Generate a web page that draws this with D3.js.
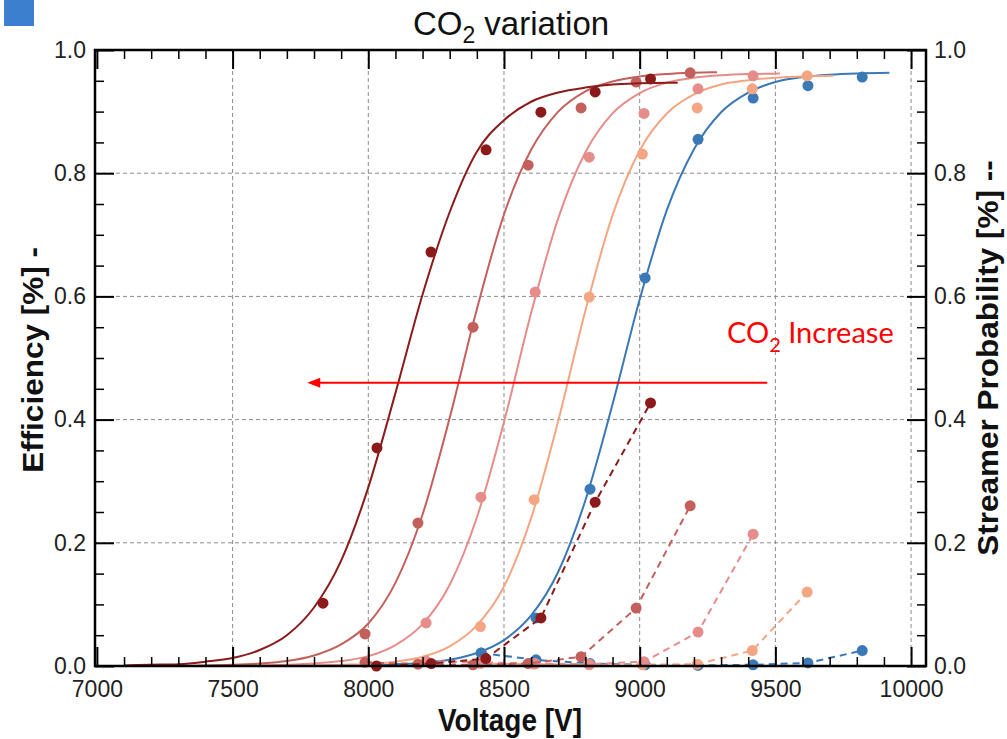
<!DOCTYPE html>
<html><head><meta charset="utf-8">
<script src="https://cdn.jsdelivr.net/npm/d3@7/dist/d3.min.js"></script>
<style>body{margin:0;background:#fff;} svg{display:block;}</style>
</head><body>
<svg id="chart" width="1007" height="739"></svg>
<script>
// ---------- DATA ----------
const seriesNames = ["CO2 level 5", "CO2 level 4", "CO2 level 3", "CO2 level 2", "CO2 level 1"];

// efficiency measurements
const effV_s1 = [7833, 8032, 8231, 8434, 8636, 8836, 9040];
const effE_s1 = [0.102, 0.354, 0.672, 0.838, 0.899, 0.932, 0.953];
const effV_s2 = [7988, 8183, 8386, 8589, 8784, 8987, 9186];
const effE_s2 = [0.052, 0.232, 0.550, 0.813, 0.906, 0.948, 0.963];
const effV_s3 = [8213, 8415, 8615, 8814, 9016, 9215, 9418];
const effE_s3 = [0.070, 0.274, 0.607, 0.826, 0.897, 0.937, 0.958];
const effV_s4 = [8413, 8611, 8814, 9010, 9212, 9415, 9617];
const effE_s4 = [0.064, 0.270, 0.599, 0.831, 0.906, 0.937, 0.958];
const effV_s5 = [8416, 8618, 8817, 9020, 9215, 9418, 9620, 9820];
const effE_s5 = [0.021, 0.078, 0.287, 0.630, 0.855, 0.922, 0.942, 0.956];

// streamer probability measurements
const strV_s1 = [8030, 8232, 8433, 8636, 8836, 9040];
const strP_s1 = [0.000, 0.004, 0.012, 0.078, 0.266, 0.427];
const strV_s2 = [7988, 8183, 8386, 8589, 8784, 8987, 9186];
const strP_s2 = [0.006, 0.003, 0.002, 0.004, 0.015, 0.094, 0.260];
const strV_s3 = [8213, 8415, 8615, 8814, 9016, 9215, 9418];
const strP_s3 = [0.008, 0.006, 0.004, 0.003, 0.007, 0.055, 0.214];
const strV_s4 = [8413, 8611, 8814, 9010, 9212, 9415, 9617];
const strP_s4 = [0.004, 0.003, 0.002, 0.002, 0.003, 0.025, 0.120];
const strV_s5 = [8416, 8618, 8817, 9020, 9215, 9418, 9620, 9820];
const strP_s5 = [0.021, 0.010, 0.004, 0.002, 0.001, 0.002, 0.005, 0.025];

// fitted efficiency curves
const fitV_s1 = [7100,7200,7300,7400,7500,7600,7700,7800,7900,8000,8100,8200,8300,8400,8500,8600,8700,8800,8900,9000,9100,9140];
const fitE_s1 = [0.001,0.002,0.003,0.007,0.013,0.026,0.050,0.095,0.171,0.290,0.443,0.603,0.737,0.835,0.886,0.916,0.931,0.939,0.944,0.946,0.947,0.947];
const fitV_s2 = [7100,7200,7300,7400,7500,7600,7700,7800,7900,8000,8100,8200,8300,8400,8500,8600,8700,8800,8900,9000,9100,9200,9285];
const fitE_s2 = [0.000,0.000,0.000,0.001,0.002,0.004,0.008,0.017,0.035,0.069,0.135,0.246,0.403,0.579,0.733,0.838,0.900,0.933,0.949,0.957,0.961,0.963,0.964];
const fitV_s3 = [7300,7400,7500,7600,7700,7800,7900,8000,8100,8200,8300,8400,8500,8600,8700,8800,8900,9000,9100,9200,9300,9400,9517];
const fitE_s3 = [0.000,0.000,0.000,0.001,0.002,0.004,0.008,0.016,0.034,0.068,0.132,0.241,0.396,0.573,0.727,0.834,0.897,0.930,0.947,0.955,0.959,0.961,0.962];
const fitV_s4 = [7500,7600,7700,7800,7900,8000,8100,8200,8300,8400,8500,8600,8700,8800,8900,9000,9100,9200,9300,9400,9500,9600,9713];
const fitE_s4 = [0.000,0.000,0.000,0.001,0.002,0.003,0.007,0.015,0.032,0.066,0.129,0.240,0.398,0.577,0.732,0.837,0.897,0.928,0.944,0.951,0.955,0.957,0.958];
const fitV_s5 = [7800,7900,8000,8100,8200,8300,8400,8500,8600,8700,8800,8900,9000,9100,9200,9300,9400,9500,9600,9700,9800,9920];
const fitE_s5 = [0.000,0.001,0.001,0.003,0.005,0.010,0.021,0.042,0.082,0.153,0.269,0.425,0.595,0.740,0.839,0.899,0.931,0.948,0.956,0.960,0.962,0.963];

// axes
const xMajorTicks = [7000, 7500, 8000, 8500, 9000, 9500, 10000];
const yMajorTicks = [0.0, 0.2, 0.4, 0.6, 0.8, 1.0];
const titleMain = "CO";
const titleSub = "2";
const titleRest = " variation";
const xTitle = "Voltage [V]";
const yTitle = "Efficiency [%] -";
const y2Title = "Streamer Probability [%] --";
const annoMain = "CO";
const annoSub = "2";
const annoRest = " Increase";
const arrowFromV = 9470, arrowToV = 7775, arrowLevel = 0.46;

// ---------- STYLE ----------
const colors = ["#8c1a1a", "#c3605c", "#e68c8a", "#f4a683", "#3a78b6"];

const series = seriesNames.map((name, i) => ({
  name, color: colors[i],
  eff: [effV_s1, effV_s2, effV_s3, effV_s4, effV_s5][i].map((v, j) => ({v, e: [effE_s1, effE_s2, effE_s3, effE_s4, effE_s5][i][j]})),
  str: [strV_s1, strV_s2, strV_s3, strV_s4, strV_s5][i].map((v, j) => ({v, e: [strP_s1, strP_s2, strP_s3, strP_s4, strP_s5][i][j]})),
  fit: [fitV_s1, fitV_s2, fitV_s3, fitV_s4, fitV_s5][i].map((v, j) => ({v, e: [fitE_s1, fitE_s2, fitE_s3, fitE_s4, fitE_s5][i][j]}))
}));

const svg = d3.select("#chart");
const L = 95, R = 926, T = 50, B = 666;
const x = d3.scaleLinear().domain([6993, 10055]).range([L, R]);
const y = d3.scaleLinear().domain([0, 1]).range([B, T]);
const FONT = "'Liberation Sans', Arial, Helvetica, sans-serif";

// corner square
svg.append("rect").attr("x", 4).attr("y", 0).attr("width", 30).attr("height", 26).attr("fill", "#3d7fcf");

// grid
const grid = svg.append("g").attr("stroke", "#8a8a8a").attr("stroke-width", 1).attr("stroke-dasharray", "4,3");
xMajorTicks.filter(v => v > 7000).forEach(v => {
  grid.append("line").attr("x1", x(v)).attr("x2", x(v)).attr("y1", T).attr("y2", B);
});
yMajorTicks.filter(v => v > 0 && v < 1).forEach(v => {
  grid.append("line").attr("x1", L).attr("x2", R).attr("y1", y(v)).attr("y2", y(v));
});

// series
const fitLine = d3.line().x(d => x(d.v)).y(d => y(d.e)).curve(d3.curveMonotoneX);
const strLine = d3.line().x(d => x(d.v)).y(d => y(d.e));
const order = [4, 3, 2, 1, 0];
order.forEach(i => {
  const s = series[i];
  const g = svg.append("g");
  g.append("path").attr("d", fitLine(s.fit)).attr("fill", "none").attr("stroke", s.color).attr("stroke-width", 2);
  g.append("path").attr("d", strLine(s.str)).attr("fill", "none").attr("stroke", s.color).attr("stroke-width", 2).attr("stroke-dasharray", "7,5");
  g.selectAll("circle.e").data(s.eff).join("circle").attr("class", "e")
    .attr("cx", d => x(d.v)).attr("cy", d => y(d.e)).attr("r", 5.5).attr("fill", s.color);
  g.selectAll("circle.s").data(s.str).join("circle").attr("class", "s")
    .attr("cx", d => x(d.v)).attr("cy", d => y(d.e)).attr("r", 5.5).attr("fill", s.color);
});

// annotation arrow
const ay = y(arrowLevel);
svg.append("line").attr("x1", x(arrowFromV)).attr("x2", x(arrowToV) + 10).attr("y1", ay).attr("y2", ay)
  .attr("stroke", "#ff0000").attr("stroke-width", 2);
svg.append("path").attr("d", `M${x(arrowToV)},${ay} L${x(arrowToV) + 13},${ay - 5} L${x(arrowToV) + 13},${ay + 5} Z`).attr("fill", "#ff0000");
const at = svg.append("text").attr("x", 727).attr("y", 343).attr("fill", "#ff0000")
  .attr("font-family", "Lato, 'Open Sans', sans-serif").attr("font-size", 29);
at.append("tspan").text(annoMain);
at.append("tspan").attr("dy", 9).attr("font-size", 20).text(annoSub);
at.append("tspan").attr("dy", -9).text(annoRest);

// axes
function styleAxis(g, fs) {
  g.select(".domain").remove();
  g.selectAll("line").attr("stroke", "#000");
  g.selectAll("text").attr("font-family", FONT).attr("font-size", fs).attr("fill", "#222");
}
const xMinor = d3.range(7100, 10051, 100).filter(v => v % 500 !== 0);
const yMinor = d3.range(0.05, 1.0, 0.05).filter(v => Math.abs(v * 5 - Math.round(v * 5)) > 1e-6);

svg.append("g").attr("transform", `translate(0,${B})`)
  .call(d3.axisBottom(x).tickValues(xMajorTicks).tickSize(-19).tickPadding(15).tickFormat(d3.format("d")))
  .call(g => styleAxis(g, 23)).call(g => g.selectAll("line").attr("stroke-width", 2));
svg.append("g").attr("transform", `translate(0,${B})`)
  .call(d3.axisBottom(x).tickValues(xMinor).tickSize(-9).tickFormat(""))
  .call(g => styleAxis(g, 0)).call(g => g.selectAll("line").attr("stroke-width", 1.5));
svg.append("g").attr("transform", `translate(0,${T})`)
  .call(d3.axisTop(x).tickValues(xMajorTicks).tickSize(-19).tickFormat(""))
  .call(g => styleAxis(g, 0)).call(g => g.selectAll("line").attr("stroke-width", 2));
svg.append("g").attr("transform", `translate(0,${T})`)
  .call(d3.axisTop(x).tickValues(xMinor).tickSize(-9).tickFormat(""))
  .call(g => styleAxis(g, 0)).call(g => g.selectAll("line").attr("stroke-width", 1.5));

svg.append("g").attr("transform", `translate(${L},0)`)
  .call(d3.axisLeft(y).tickValues(yMajorTicks).tickSize(-19).tickPadding(9).tickFormat(d3.format(".1f")))
  .call(g => styleAxis(g, 23)).call(g => g.selectAll("line").attr("stroke-width", 2));
svg.append("g").attr("transform", `translate(${L},0)`)
  .call(d3.axisLeft(y).tickValues(yMinor).tickSize(-9).tickFormat(""))
  .call(g => styleAxis(g, 0)).call(g => g.selectAll("line").attr("stroke-width", 1.5));
svg.append("g").attr("transform", `translate(${R},0)`)
  .call(d3.axisRight(y).tickValues(yMajorTicks).tickSize(-19).tickPadding(8).tickFormat(d3.format(".1f")))
  .call(g => styleAxis(g, 23)).call(g => g.selectAll("line").attr("stroke-width", 2));
svg.append("g").attr("transform", `translate(${R},0)`)
  .call(d3.axisRight(y).tickValues(yMinor).tickSize(-9).tickFormat(""))
  .call(g => styleAxis(g, 0)).call(g => g.selectAll("line").attr("stroke-width", 1.5));

// frame
svg.append("rect").attr("x", L).attr("y", T).attr("width", R - L).attr("height", B - T)
  .attr("fill", "none").attr("stroke", "#000").attr("stroke-width", 2.5);

// title
const tt = svg.append("text").attr("x", 511).attr("y", 35).attr("text-anchor", "middle")
  .attr("font-family", FONT).attr("font-size", 33).attr("fill", "#111");
tt.append("tspan").text(titleMain);
tt.append("tspan").attr("dy", 8).attr("font-size", 23).text(titleSub);
tt.append("tspan").attr("dy", -8).text(titleRest);

// axis titles
svg.append("text").attr("transform", "translate(510,731) scale(1,1.1)").attr("text-anchor", "middle")
  .attr("font-family", FONT).attr("font-weight", "bold").attr("font-size", 28).attr("fill", "#111").text(xTitle);
svg.append("text").attr("transform", "translate(43,360) rotate(-90) scale(1.05,1)").attr("text-anchor", "middle")
  .attr("font-family", FONT).attr("font-weight", "bold").attr("font-size", 30).attr("fill", "#111").text(yTitle);
svg.append("text").attr("transform", "translate(998,358) rotate(-90) scale(1.05,1)").attr("text-anchor", "middle")
  .attr("font-family", FONT).attr("font-weight", "bold").attr("font-size", 30).attr("fill", "#111").text(y2Title);
</script>
</body></html>
